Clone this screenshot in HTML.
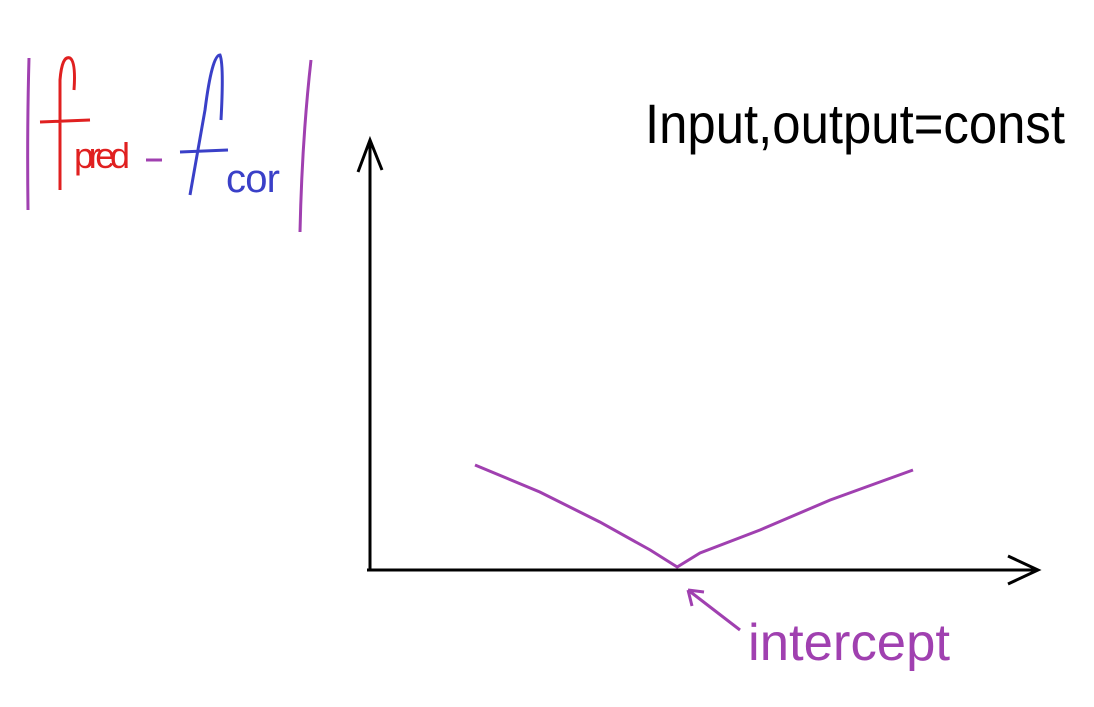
<!DOCTYPE html>
<html><head><meta charset="utf-8"><style>
html,body{margin:0;padding:0;background:#fff;}
svg{display:block;}
text{font-family:"Liberation Sans",sans-serif;}
</style></head><body>
<svg id="chart" width="1094" height="707" viewBox="0 0 1094 707">
<g>
  <path d="M29 58 Q27 130 28 210" stroke="#a040b0" stroke-width="3" fill="none"/>
  <path d="M60 190 L60 80 Q62 55 70 58 Q76 62 74 90 M40 122 L90 120" stroke="#e02020" stroke-width="3" fill="none"/>
  <text x="74" y="168" font-size="36" fill="#e02020" textLength="56">pred</text>
  <path d="M146 160 L162 160" stroke="#a040b0" stroke-width="3"/>
  <path d="M190 195 L205 110 Q212 55 220 55 Q224 65 221 120 M180 152 L228 150" stroke="#3a40c8" stroke-width="3" fill="none"/>
  <text x="226" y="192" font-size="40" fill="#3a40c8" textLength="54">cor</text>
  <path d="M311 60 Q302 140 300 232" stroke="#a040b0" stroke-width="3" fill="none"/>
</g>
<text x="645" y="143" font-size="56" fill="#000" textLength="420" lengthAdjust="spacingAndGlyphs">Input,output=const</text>
<g>
  <path d="M370 570 L370 140 M358 172 L370 140 L382 170" stroke="#000" stroke-width="3" fill="none"/>
  <path d="M367 570 L1036 570 M1008 556 L1038 570 L1008 584" stroke="#000" stroke-width="3" fill="none"/>
</g>
<path id="curve" stroke="#a040b0" stroke-width="3" fill="none"/>
<path d="M740 630 L688 590 M688 590 L692 606 M688 590 L704 592" stroke="#a040b0" stroke-width="3" fill="none"/>
<text x="748" y="660" font-size="52" fill="#a040b0" textLength="202" lengthAdjust="spacingAndGlyphs">intercept</text>
</svg>
<script>
const xValues = [1.75, 2.83, 3.83, 4.67, 5.12, 5.5, 6.5, 7.67, 9.05];
const errValues = [1.05, 0.78, 0.48, 0.2, 0.03, 0.17, 0.4, 0.7, 1.0];
function sx(v){return 370 + v*60;}
function sy(v){return 570 - v*100;}
const d = xValues.map((x,i)=>(i?'L':'M')+sx(x)+' '+sy(errValues[i])).join(' ');
const c = document.getElementById('curve');
c.setAttribute('d', d);
</script>
</body></html>
